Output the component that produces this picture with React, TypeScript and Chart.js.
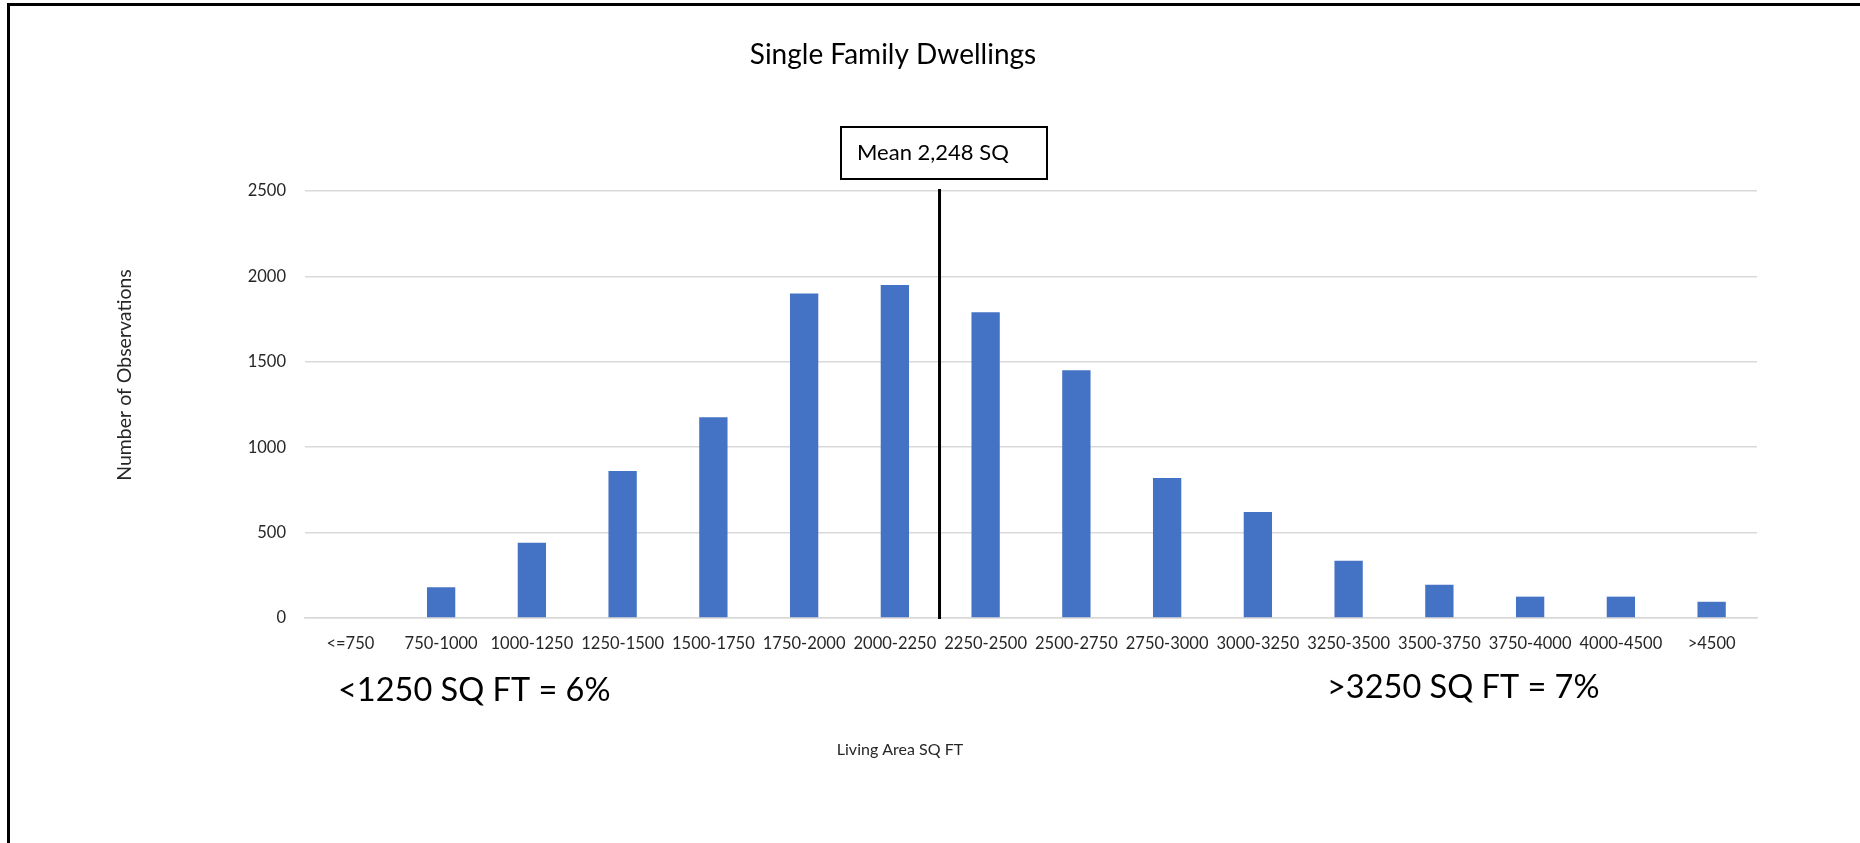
import React, { useEffect, useRef } from "react";
import { Chart, registerables } from "chart.js";

Chart.register(...registerables);

// ---- data ----
const categories = [
  "<=750", "750-1000", "1000-1250", "1250-1500", "1500-1750", "1750-2000",
  "2000-2250", "2250-2500", "2500-2750", "2750-3000", "3000-3250", "3250-3500",
  "3500-3750", "3750-4000", "4000-4500", ">4500",
];
const observations = [0, 180, 440, 860, 1175, 1900, 1950, 1790, 1450, 820, 620, 335, 195, 125, 125, 95];
const yTickValues = [0, 500, 1000, 1500, 2000, 2500];
const meanSqFt = 2248;

const titleText = "Single Family Dwellings";
const yTitleText = "Number of Observations";
const xTitleText = "Living Area SQ FT";
const meanLabel = "Mean 2,248 SQ";
const lowShareLabel = "<1250 SQ FT = 6%";
const highShareLabel = ">3250 SQ FT = 7%";

const FONT = "Lato, 'Open Sans', sans-serif";
const BAR_COLOR = "#4472C4";
const GRID_COLOR = "#d9d9d9";
const TEXT_COLOR = "#262626";

function meanPixel(chart: any): number | null {
  const xs = chart.scales.x;
  for (let i = 0; i < categories.length; i++) {
    const parts = categories[i].split("-");
    if (parts.length !== 2) continue;
    const lo = Number(parts[0]);
    const hi = Number(parts[1]);
    if (meanSqFt >= lo && meanSqFt <= hi) {
      const frac = (meanSqFt - lo) / (hi - lo);
      const catW = xs.width / categories.length;
      return xs.getPixelForValue(i) + (frac - 0.5) * catW;
    }
  }
  return null;
}

const overlayPlugin = {
  id: "overlayText",
  afterDraw(chart: any) {
    const ctx = chart.ctx;
    const area = chart.chartArea;
    const ys = chart.scales.y;
    ctx.save();

    // title
    ctx.fillStyle = "#000";
    ctx.font = `28px ${FONT}`;
    ctx.textAlign = "center";
    ctx.textBaseline = "middle";
    ctx.fillText(titleText, 893, 55);

    // y axis title
    ctx.save();
    ctx.translate(125, 375);
    ctx.rotate(-Math.PI / 2);
    ctx.font = `19.5px ${FONT}`;
    ctx.fillStyle = TEXT_COLOR;
    ctx.fillText(yTitleText, 0, 0);
    ctx.restore();

    // x axis title
    ctx.font = `16px ${FONT}`;
    ctx.fillStyle = TEXT_COLOR;
    ctx.fillText(xTitleText, 900, 750);

    // share annotations
    ctx.font = `32.5px ${FONT}`;
    ctx.fillStyle = "#000";
    ctx.textAlign = "left";
    ctx.fillText(lowShareLabel, 338, 691);
    ctx.fillText(highShareLabel, 1327, 688);

    // mean line
    const mx = meanPixel(chart);
    if (mx !== null) {
      ctx.strokeStyle = "#000";
      ctx.lineWidth = 3;
      ctx.beginPath();
      ctx.moveTo(mx, ys.getPixelForValue(2500) - 2);
      ctx.lineTo(mx, area.bottom + 1);
      ctx.stroke();
    }

    // mean box
    ctx.lineWidth = 2;
    ctx.strokeStyle = "#000";
    ctx.fillStyle = "#fff";
    ctx.fillRect(841, 127, 206, 52);
    ctx.strokeRect(841, 127, 206, 52);
    ctx.fillStyle = "#000";
    ctx.font = `22px ${FONT}`;
    ctx.textAlign = "left";
    ctx.textBaseline = "middle";
    ctx.fillText(meanLabel, 857, 153);

    ctx.restore();
  },
};

export default function App() {
  const canvasRef = useRef<HTMLCanvasElement | null>(null);

  useEffect(() => {
    if (!canvasRef.current) return;
    const chart = new Chart(canvasRef.current, {
      type: "bar",
      data: {
        labels: categories,
        datasets: [
          {
            label: "Observations",
            data: observations,
            backgroundColor: BAR_COLOR,
            borderWidth: 0,
            barPercentage: 0.312,
            categoryPercentage: 1,
          },
        ],
      },
      options: {
        responsive: false,
        animation: false,
        layout: { padding: { top: 191, right: 103, bottom: 0, left: 0 } },
        plugins: {
          legend: { display: false },
          tooltip: { enabled: false },
          title: { display: false },
        },
        scales: {
          x: {
            grid: { display: false, drawTicks: false },
            border: { display: true, color: GRID_COLOR, width: 1.5 },
            ticks: {
              autoSkip: false,
              maxRotation: 0,
              minRotation: 0,
              padding: 16,
              color: TEXT_COLOR,
              font: { family: FONT, size: 16.5 },
            },
            afterFit: (scale: any) => {
              scale.height = 225;
            },
          },
          y: {
            min: yTickValues[0],
            max: yTickValues[yTickValues.length - 1],
            grid: { color: GRID_COLOR, lineWidth: 1.5, drawTicks: false },
            border: { display: false },
            afterBuildTicks: (scale: any) => {
              scale.ticks = yTickValues.map((v) => ({ value: v }));
            },
            ticks: {
              padding: 19,
              color: TEXT_COLOR,
              font: { family: FONT, size: 16.5 },
              callback: (v: any) => String(v),
            },
            afterFit: (scale: any) => {
              scale.width = 305;
            },
          },
        },
      },
      plugins: [overlayPlugin],
    });
    return () => chart.destroy();
  }, []);

  return (
    <div style={{ position: "fixed", left: 0, top: 0, width: 1860, height: 843, background: "#fff" }}>
      <canvas ref={canvasRef} width={1860} height={843} style={{ display: "block" }} />
      <div
        style={{
          position: "absolute",
          left: 7,
          top: 3,
          right: 0,
          bottom: 0,
          borderLeft: "3px solid #000",
          borderTop: "3px solid #000",
          pointerEvents: "none",
        }}
      />
    </div>
  );
}
